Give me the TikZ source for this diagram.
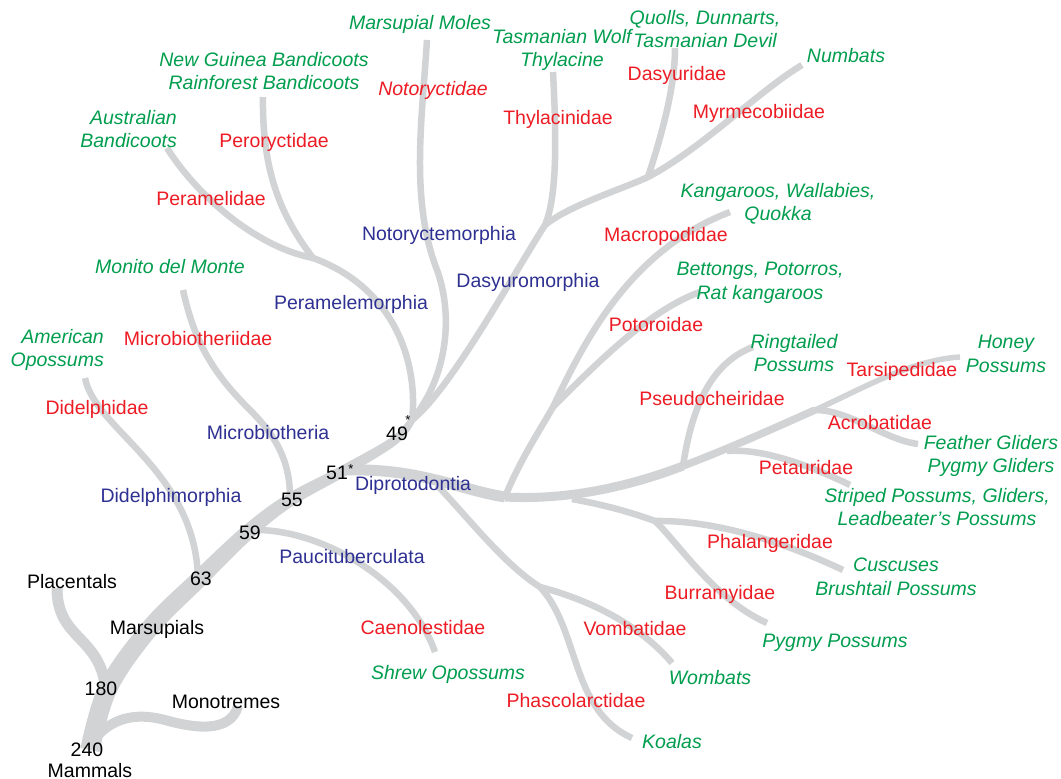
\documentclass[tikz,border=0pt]{standalone}
\usepackage{fontspec}
\setmainfont{Liberation Sans}
\definecolor{brgray}{RGB}{209,211,212}
\definecolor{lblgreen}{RGB}{0,158,78}
\definecolor{lblred}{RGB}{237,28,36}
\definecolor{lblblue}{RGB}{46,49,146}
\begin{document}
\begin{tikzpicture}[x=1pt,y=-1pt,
  br/.style={draw=brgray,line width=6.5pt},
  lbl/.style={inner sep=0pt,anchor=base,font=\fontsize{19.5}{23.5}\selectfont,align=center},
  numlbl/.style={lbl,text=black},
  cladelbl/.style={lbl,text=lblblue},
  famlbl/.style={lbl,text=lblred},
  commonlbl/.style={lbl,text=lblgreen,font=\fontsize{19.5}{23.5}\selectfont\itshape},
  twoline/.style={anchor=center}
]
\fill[white] (0,0) rectangle (1061,779);
\useasboundingbox (0,0) rectangle (1061,779);

% ---------- trunk (tapered) ----------
\fill[brgray] plot[smooth,tension=0.6] coordinates {(99.6,752) (116.6,692.1) (156.9,633.8) (204.0,586.1) (252.9,537.7) (293.5,505.5) (347.7,474.8) (397.9,443.4) (415.7,420.2)}
  -- plot[smooth,tension=0.6] coordinates {(410.3,415.8) (392.1,436.6) (342.3,465.2) (286.5,494.5) (243.1,526.3) (192.0,573.9) (143.1,622.2) (99.5,683.9) (80.4,748)} -- cycle;

% ---------- junctions and tips ----------
\coordinate (root) at (92,742);
\coordinate (n180) at (106,690);
\coordinate (n63) at (198,578);
\coordinate (n59) at (252,530);
\coordinate (n55) at (290,497);
\coordinate (n51) at (346,470);
\coordinate (n49) at (412,420);
\coordinate (tPla) at (57,588);
\coordinate (tMon) at (238,706);
\coordinate (tDid) at (85,378);
\coordinate (tMic) at (183,290);
\coordinate (tPau) at (435,652);
\coordinate (jPer) at (313,258);
\coordinate (tAus) at (167,148);
\coordinate (tNG) at (263,97);
\coordinate (tNot) at (427,40);
\coordinate (jDas) at (545,225);
\coordinate (tThy) at (553,72);
\coordinate (jDsy) at (648,177);
\coordinate (tDsy) at (675,48);
\coordinate (tNum) at (802,65);
\coordinate (jDip) at (505,497);
\coordinate (jPot) at (553,407);
\coordinate (tMac) at (730,212);
\coordinate (tPot) at (700,292);
\coordinate (jPse) at (683,466);
\coordinate (tPse) at (753,347);
\coordinate (jPet) at (727,451);
\coordinate (tPet) at (850,485);
\coordinate (jAcr) at (815,410);
\coordinate (tAcr) at (918,444);
\coordinate (tHon) at (960,357);
\coordinate (jPh0) at (572,499);
\coordinate (jPh) at (655,521);
\coordinate (tPhl) at (843,570);
\coordinate (tBur) at (767,623);
\coordinate (jVo0) at (437,485);
\coordinate (jVom) at (540,587);
\coordinate (tVom) at (672,663);
\coordinate (tPha) at (632,738);

% ---------- branches ----------
\draw[br,line width=11pt] (tPla) .. controls (57,640) and (100,635) .. (n180);
\draw[br,line width=10pt] (root) .. controls (110,718) and (135,712) .. (165,720) .. controls (190,727) and (230,735) .. (tMon);
\draw[br] (tDid) .. controls (95,430) and (195,470) .. (n63);
\draw[br] (tMic) .. controls (195,345) and (215,375) .. (250,410) .. controls (275,435) and (290,460) .. (n55);
\draw[br] (n59) .. controls (320,528) and (410,580) .. (tPau);
% Peramelemorphia
\draw[br] (n49) .. controls (418,370) and (400,290) .. (jPer);
\draw[br] (jPer) .. controls (260,248) and (200,200) .. (tAus);
\draw[br] (jPer) .. controls (280,215) and (262,170) .. (tNG);
% Notoryctemorphia
\draw[br] (tNot) .. controls (422,120) and (410,200) .. (437,270) .. controls (455,320) and (445,380) .. (n49);
% Dasyuromorphia
\draw[br] (n49) .. controls (450,390) and (510,280) .. (jDas);
\draw[br] (jDas) .. controls (558,195) and (556,130) .. (tThy);
\draw[br] (jDas) .. controls (570,205) and (620,190) .. (jDsy);
\draw[br] (jDsy) .. controls (660,140) and (675,90) .. (tDsy);
\draw[br] (jDsy) .. controls (700,150) and (760,90) .. (tNum);
% Diprotodontia
\draw[br,line width=11pt] (n51) .. controls (420,468) and (460,490) .. (jDip);
\draw[br,line width=9pt] (jDip) .. controls (560,500) and (620,490) .. (jPse);
\draw[br,line width=7.5pt] (jPse) .. controls (730,448) and (770,430) .. (jAcr);
\draw[br,line width=5.5pt] (jAcr) .. controls (860,390) and (910,360) .. (tHon);
\draw[br] (jDip) .. controls (520,460) and (540,430) .. (jPot);
\draw[br] (jPot) .. controls (585,340) and (630,250) .. (tMac);
\draw[br] (jPot) .. controls (600,360) and (650,310) .. (tPot);
\draw[br] (jPse) .. controls (690,420) and (705,365) .. (tPse);
\draw[br] (jPet) .. controls (765,448) and (815,468) .. (tPet);
\draw[br] (jAcr) .. controls (850,410) and (885,440) .. (tAcr);
\draw[br] (jPh0) .. controls (605,505) and (630,512) .. (jPh);
\draw[br] (jPh) .. controls (720,520) and (790,545) .. (tPhl);
\draw[br] (jPh) .. controls (680,545) and (715,600) .. (tBur);
\draw[br] (jVo0) .. controls (470,520) and (505,565) .. (jVom);
\draw[br] (jVom) .. controls (590,600) and (640,625) .. (tVom);
\draw[br] (jVom) .. controls (580,630) and (570,710) .. (tPha);

% ---------- black labels ----------
\node[numlbl] (lPlac) at (72,588) {Placentals};
\node[numlbl] (lMars) at (157,634) {Marsupials};
\node[numlbl] (lMono) at (226,708) {Monotremes};
\node[numlbl] (l180) at (101,695) {180};
\node[numlbl] (l240) at (87,756) {240};
\node[numlbl] (lMamm) at (90,777) {Mammals};
\node[numlbl] (l63) at (201,585) {63};
\node[numlbl] (l59) at (250,539) {59};
\node[numlbl] (l55) at (292,506) {55};
\node[numlbl] (l51) at (337,479) {51\rlap{\kern0.5pt\raisebox{5.5pt}{\fontsize{13}{13}\selectfont*}}};
\node[numlbl] (l49) at (397,440) {49\rlap{\kern-2.5pt\raisebox{15.5pt}{\fontsize{13}{13}\selectfont*}}};

% ---------- blue labels ----------
\node[cladelbl] (cDid) at (171,502) {Didelphimorphia};
\node[cladelbl] (cMic) at (268,439) {Microbiotheria};
\node[cladelbl] (cPau) at (352,563) {Paucituberculata};
\node[cladelbl] (cDip) at (413,490) {Diprotodontia};
\node[cladelbl] (cPer) at (351,309) {Peramelemorphia};
\node[cladelbl] (cNot) at (439,240) {Notoryctemorphia};
\node[cladelbl] (cDas) at (528,287) {Dasyuromorphia};

% ---------- red labels ----------
\node[famlbl] (fDid) at (97,414) {Didelphidae};
\node[famlbl] (fMic) at (198,345) {Microbiotheriidae};
\node[famlbl] (fPer) at (211,205) {Peramelidae};
\node[famlbl] (fPry) at (274,147) {Peroryctidae};
\node[famlbl,font=\fontsize{19.5}{23.5}\selectfont\itshape] (fNot) at (433,95) {Notoryctidae};
\node[famlbl] (fThy) at (558,124) {Thylacinidae};
\node[famlbl] (fDsy) at (677,80) {Dasyuridae};
\node[famlbl] (fMyr) at (759,118) {Myrmecobiidae};
\node[famlbl] (fMac) at (666,241) {Macropodidae};
\node[famlbl] (fPot) at (656,331) {Potoroidae};
\node[famlbl] (fPse) at (712,405) {Pseudocheiridae};
\node[famlbl] (fTar) at (902,376) {Tarsipedidae};
\node[famlbl] (fAcr) at (880,429) {Acrobatidae};
\node[famlbl] (fPet) at (806,474) {Petauridae};
\node[famlbl] (fPhl) at (770,548) {Phalangeridae};
\node[famlbl] (fBur) at (720,599) {Burramyidae};
\node[famlbl] (fVom) at (635,635) {Vombatidae};
\node[famlbl] (fCae) at (423,634) {Caenolestidae};
\node[famlbl] (fPha) at (576,707) {Phascolarctidae};

% ---------- green labels ----------
\node[commonlbl] (gMol) at (420,29) {Marsupial Moles};
\node[commonlbl,twoline] (gNG) at (264,71) {New Guinea Bandicoots\\Rainforest Bandicoots};
\node[commonlbl,anchor=east,align=right] (gAus) at (177,129) {Australian\\Bandicoots};
\node[commonlbl,twoline] (gThy) at (562,50) {Tasmanian Wolf\\Thylacine};
\node[commonlbl,twoline] (gDsy) at (705,29) {Quolls, Dunnarts,\\Tasmanian Devil};
\node[commonlbl] (gNum) at (846,62) {Numbats};
\node[commonlbl,twoline] (gKan) at (778,204) {Kangaroos, Wallabies,\\Quokka};
\node[commonlbl,twoline] (gBet) at (760,283) {Bettongs, Potorros,\\Rat kangaroos};
\node[commonlbl,twoline] (gRin) at (794,353) {Ringtailed\\Possums};
\node[commonlbl,twoline] (gHon) at (1006,354) {Honey\\Possums};
\node[commonlbl,twoline] (gFea) at (991,456) {Feather Gliders\\Pygmy Gliders};
\node[commonlbl,twoline] (gStr) at (937,507) {Striped Possums, Gliders,\\Leadbeater's Possums};
\node[commonlbl,twoline] (gCus) at (896,577) {Cuscuses\\Brushtail Possums};
\node[commonlbl] (gPyg) at (835,647) {Pygmy Possums};
\node[commonlbl] (gWom) at (710,684) {Wombats};
\node[commonlbl] (gShr) at (448,679) {Shrew Opossums};
\node[commonlbl] (gKoa) at (672,748) {Koalas};
\node[commonlbl] (gMon) at (170,273) {Monito del Monte};
\node[commonlbl,anchor=east,align=right] (gAme) at (104,350) {American\\Opossums};
\end{tikzpicture}
\end{document}
